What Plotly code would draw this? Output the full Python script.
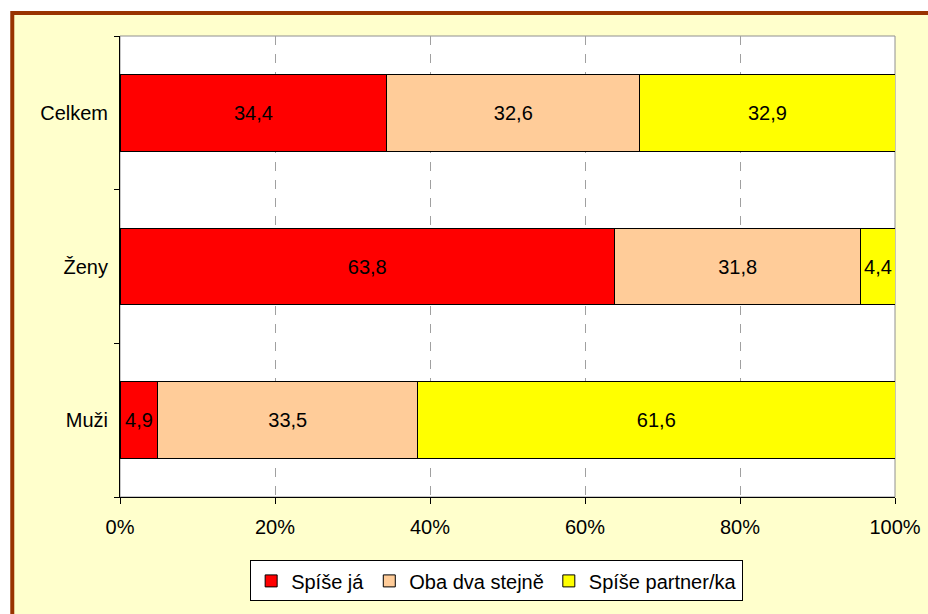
import plotly.graph_objects as go

categories = ['Muži', 'Ženy', 'Celkem']
spise_ja = [4.9, 63.8, 34.4]
oba_dva = [33.5, 31.8, 32.6]
spise_partner = [61.6, 4.4, 32.9]
series_names = ['Spíše já', 'Oba dva stejně', 'Spíše partner/ka']
series_colors = ['#FF0000', '#FFCC99', '#FFFF00']
x_ticks = [0, 20, 40, 60, 80, 100]
x_tick_labels = ['0%', '20%', '40%', '60%', '80%', '100%']


def fmt(v):
    return f'{v:.1f}'.replace('.', ',')


fig = go.Figure()

for name, values, color in zip(series_names, [spise_ja, oba_dva, spise_partner], series_colors):
    fig.add_trace(
        go.Bar(
            y=categories,
            x=values,
            orientation='h',
            name=name,
            marker=dict(color=color, line=dict(color='black', width=1)),
            text=[fmt(v) for v in values],
            textposition='inside',
            insidetextanchor='middle',
            textfont=dict(color='black', size=20),
            hoverinfo='skip',
        )
    )

# chart area background with brown frame, and white plot area
fig.add_shape(type='rect', xref='paper', yref='paper',
              x0=-0.139, x1=1.2, y0=-0.3, y1=1.05,
              fillcolor='#FFFFCC', line=dict(color='#993300', width=4), layer='below')
fig.add_shape(type='rect', xref='paper', yref='paper',
              x0=0, x1=1, y0=0, y1=1,
              fillcolor='white', line=dict(color='#909090', width=1), layer='below')

fig.update_layout(
    width=928,
    height=614,
    autosize=False,
    barmode='stack',
    barnorm='percent',
    bargap=0.5,
    paper_bgcolor='white',
    plot_bgcolor='rgba(0,0,0,0)',
    font=dict(family='Liberation Sans, Arial, sans-serif', size=20, color='black'),
    margin=dict(l=120, r=33, t=36, b=117),
    uniformtext=dict(minsize=20, mode='show'),
    xaxis=dict(
        range=[0, 100],
        tickvals=x_ticks,
        ticktext=x_tick_labels,
        showgrid=True,
        gridcolor='#A0A0A0',
        griddash='dash',
        gridwidth=1,
        showline=True,
        linecolor='black',
        linewidth=1,
        ticks='outside',
        ticklen=6,
        tickcolor='black',
        ticklabelstandoff=6,
        zeroline=False,
        fixedrange=True,
        automargin=False,
        tickfont=dict(size=20),
    ),
    yaxis=dict(
        type='category',
        categoryorder='array',
        categoryarray=categories,
        tickson='boundaries',
        ticks='outside',
        ticklen=5,
        tickcolor='black',
        ticklabelstandoff=7,
        showline=True,
        linecolor='black',
        linewidth=1,
        showgrid=False,
        automargin=False,
        tickfont=dict(size=20),
    ),
    legend=dict(
        orientation='h',
        x=0.486,
        y=-0.182,
        xanchor='center',
        yanchor='middle',
        bgcolor='white',
        bordercolor='black',
        borderwidth=1,
        font=dict(size=20),
        traceorder='normal',
        itemwidth=30,
    ),
)

# drop the default page margin so the figure fills the window exactly
fig.write_html(
    'out.html',
    config={'displayModeBar': False, 'responsive': False},
    post_script="document.body.style.margin='0';"
                "document.body.style.overflow='hidden';"
                "document.documentElement.style.overflow='hidden';",
)
